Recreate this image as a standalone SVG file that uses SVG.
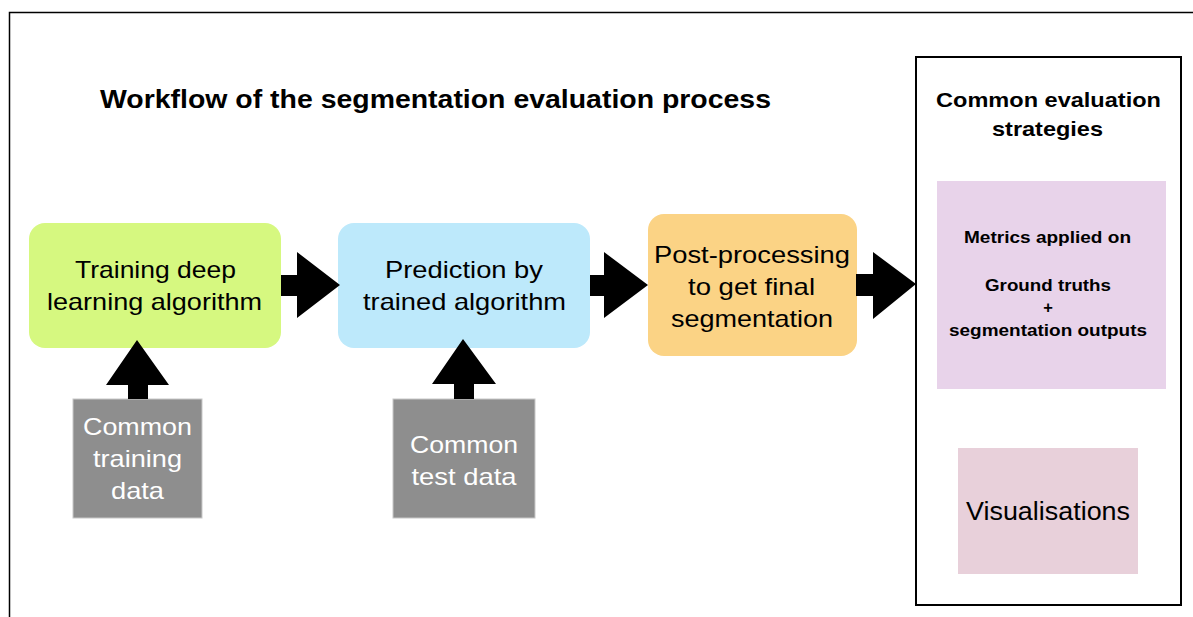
<svg xmlns="http://www.w3.org/2000/svg" width="1193" height="617" viewBox="0 0 1193 617">
  <style>
    text { font-family: "Liberation Sans", Arial, Helvetica, sans-serif; text-anchor: middle; }
    .step { font-size: 24px; fill: #000; }
    .data { font-size: 24px; fill: #fff; }
    .title { font-size: 25.5px; font-weight: bold; fill: #000; }
    .head { font-size: 21px; font-weight: bold; fill: #000; }
    .metric { font-size: 16.5px; font-weight: bold; fill: #000; }
    .vis { font-size: 25.5px; fill: #000; }
    .arrow { fill: #000; }
    .src { fill: #8e8e8e; stroke: #c8c8c8; stroke-width: 1; }
  </style>
  <rect width="1193" height="617" fill="#fff"/>
  <!-- page frame -->
  <path d="M9.5 617 V12.5 H1193" fill="none" stroke="#000" stroke-width="1.5"/>

  <text class="title" x="435.5" y="108" textLength="671" lengthAdjust="spacingAndGlyphs">Workflow of the segmentation evaluation process</text>

  <g id="train">
    <rect x="29" y="223" width="252" height="125" rx="16" fill="#d6f880"/>
    <text class="step" x="155.5" y="278" textLength="161" lengthAdjust="spacingAndGlyphs">Training deep</text>
    <text class="step" x="154.5" y="310" textLength="215" lengthAdjust="spacingAndGlyphs">learning algorithm</text>
  </g>

  <g id="predict">
    <rect x="338" y="223" width="252" height="125" rx="16" fill="#bde9fb"/>
    <text class="step" x="464" y="278" textLength="158" lengthAdjust="spacingAndGlyphs">Prediction by</text>
    <text class="step" x="464.5" y="310" textLength="203" lengthAdjust="spacingAndGlyphs">trained algorithm</text>
  </g>

  <g id="postproc">
    <rect x="648" y="214" width="209" height="142" rx="16" fill="#fbd385"/>
    <text class="step" x="752" y="263" textLength="196" lengthAdjust="spacingAndGlyphs">Post-processing</text>
    <text class="step" x="751.5" y="295" textLength="127" lengthAdjust="spacingAndGlyphs">to get final</text>
    <text class="step" x="752" y="327" textLength="162" lengthAdjust="spacingAndGlyphs">segmentation</text>
  </g>

  <g id="train-data">
    <rect class="src" x="73" y="399" width="129" height="119"/>
    <text class="data" x="137.5" y="435" textLength="109" lengthAdjust="spacingAndGlyphs">Common</text>
    <text class="data" x="137.5" y="467" textLength="89" lengthAdjust="spacingAndGlyphs">training</text>
    <text class="data" x="137.5" y="499" textLength="53" lengthAdjust="spacingAndGlyphs">data</text>
  </g>

  <g id="test-data">
    <rect class="src" x="393" y="399" width="142" height="119"/>
    <text class="data" x="464" y="453" textLength="108" lengthAdjust="spacingAndGlyphs">Common</text>
    <text class="data" x="464" y="485" textLength="105" lengthAdjust="spacingAndGlyphs">test data</text>
  </g>

  <g id="strategies">
    <rect x="916" y="57" width="265" height="548" fill="none" stroke="#000" stroke-width="2"/>
    <text class="head" x="1048.5" y="107" textLength="225" lengthAdjust="spacingAndGlyphs">Common evaluation</text>
    <text class="head" x="1047.5" y="136" textLength="111" lengthAdjust="spacingAndGlyphs">strategies</text>
  </g>

  <g id="metrics">
    <rect x="937" y="181" width="229" height="208" fill="#e8d3ea"/>
    <text class="metric" x="1047.5" y="243" textLength="167" lengthAdjust="spacingAndGlyphs">Metrics applied on</text>
    <text class="metric" x="1048" y="291" textLength="126" lengthAdjust="spacingAndGlyphs">Ground truths</text>
    <text class="metric" x="1048" y="313">+</text>
    <text class="metric" x="1048" y="336" textLength="198" lengthAdjust="spacingAndGlyphs">segmentation outputs</text>
  </g>

  <g id="visual">
    <rect x="958" y="448" width="180" height="126" fill="#e8d0da"/>
    <text class="vis" x="1048" y="520" textLength="164" lengthAdjust="spacingAndGlyphs">Visualisations</text>
  </g>

  <g id="connectors">
    <!-- block arrows between stages -->
    <polygon class="arrow" points="281,275 297,275 297,252 340,285 297,318 297,296 281,296"/>
    <polygon class="arrow" points="590,275 604,275 604,252 648,285 604,318 604,296 590,296"/>
    <polygon class="arrow" points="856,274 873,274 873,252 916,284 873,319 873,296 856,296"/>
    <!-- upward arrows from data sources -->
    <polygon class="arrow" points="128,399 128,385 106,385 137,340 169,385 148,385 148,399"/>
    <polygon class="arrow" points="454,399 454,384 432,384 463,339 496,384 474,384 474,399"/>
  </g>
</svg>
